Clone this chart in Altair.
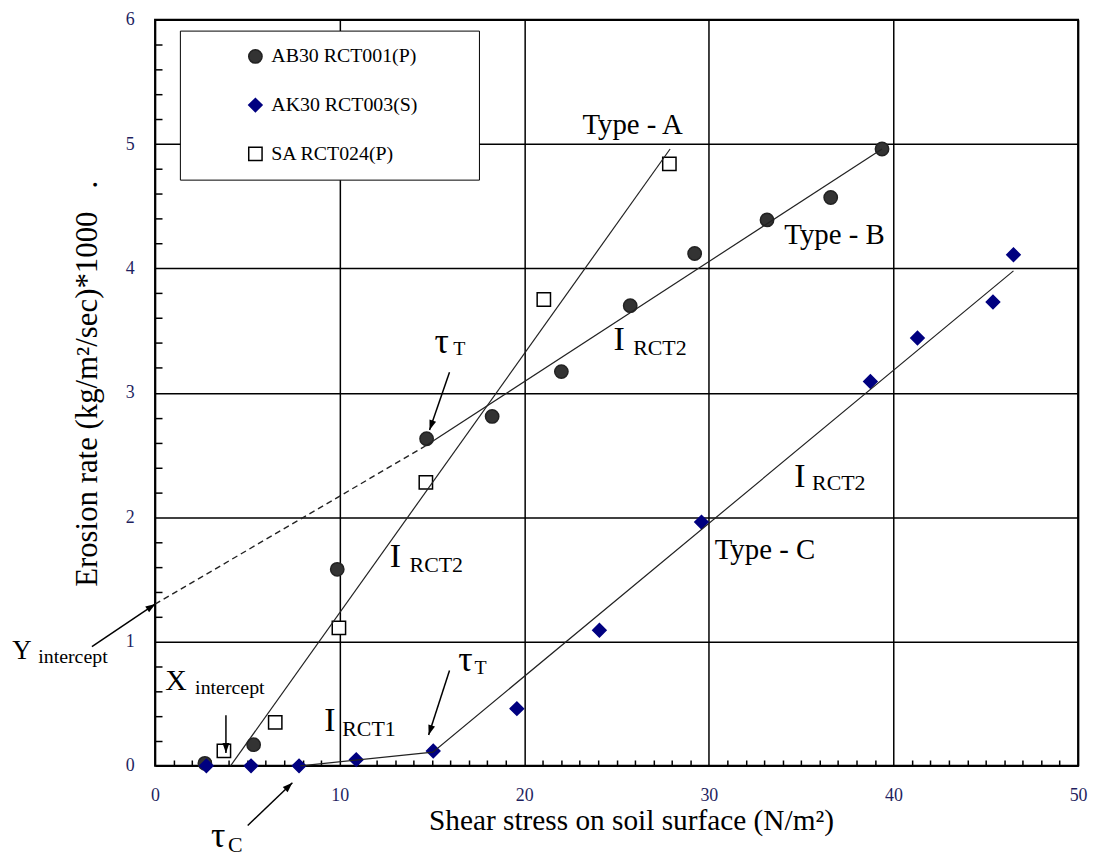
import math
import altair as alt
import pandas as pd

# ---------------- data ----------------
series_names = ["AB30 RCT001(P)", "AK30 RCT003(S)", "SA RCT024(P)"]

ab30_x = [2.7, 5.34, 9.87, 14.71, 18.26, 22.01, 25.74, 29.23, 33.15, 36.6, 39.38]
ab30_y = [0.02, 0.17, 1.58, 2.63, 2.81, 3.17, 3.70, 4.12, 4.39, 4.57, 4.96]

ak30_x = [2.78, 5.2, 7.8, 10.9, 15.07, 19.6, 24.07, 29.6, 38.75, 41.3, 45.39, 46.5]
ak30_y = [0.0, 0.0, 0.0, 0.05, 0.12, 0.46, 1.09, 1.96, 3.09, 3.44, 3.73, 4.11]

sa_x = [3.73, 6.51, 9.96, 14.67, 21.06, 27.86]
sa_y = [0.12, 0.35, 1.11, 2.28, 3.75, 4.84]

# fitted lines
typeA_x = [4.09, 27.9]
typeA_y = [0.0, 4.96]
typeB_x = [14.62, 39.38]
typeB_y = [2.57, 4.96]
typeB_ext_x = [0.0, 14.62]
typeB_ext_y = [1.30, 2.57]
typeC_x = [7.87, 15.05, 46.5]
typeC_y = [0.0, 0.11, 3.98]

# annotation texts (left, baseline) and font sizes
ann_text = ["Type - A", "Type - B", "Type - C",
            "I", "RCT2", "I", "RCT2", "I", "RCT2", "I", "RCT1",
            "\u03c4", "T", "\u03c4", "T", "\u03c4", "C",
            "Y", "intercept", "X", "intercept"]
ann_x = [23.15, 34.09, 30.32,
         24.83, 25.9, 12.72, 13.79, 34.62, 35.59, 9.17, 10.14,
         15.14, 16.16, 16.43, 17.3, 3.03, 3.95,
         -7.73, -6.33, 0.55, 2.17]
ann_y = [5.08, 4.20, 1.66,
         3.34, 3.30, 1.60, 1.56, 2.245, 2.22, 0.28, 0.24,
         3.32, 3.30, 0.76, 0.735, -0.655, -0.695,
         0.863, 0.823, 0.607, 0.575]
ann_size = [29, 29, 29,
            34, 22, 34, 22, 34, 22, 34, 22,
            36, 20, 36, 20, 36, 22,
            27, 20, 30, 20]

# arrows: start -> tip
arrow_x1 = [-3.42, 3.84, 5.02, 15.95, 15.95]
arrow_y1 = [0.959, 0.407, -0.479, 0.767, 3.164]
arrow_x2 = [0.02, 3.84, 7.44, 14.82, 14.87]
arrow_y2 = [1.302, 0.104, -0.136, 0.248, 2.70]

x_ticks = list(range(0, 51))
y_ticks = [round(0.2 * i, 1) for i in range(0, 31)]

# ---------------- chart ----------------
W, H = 929, 751
XMAX, YMAX = 50, 6
SX, SY = W / XMAX, H / YMAX
FONT = "Liberation Serif"
LABEL_COLOR = "#1f1f5f"
TX, TY = 6, 7  # inward minor tick lengths (px)

pts = pd.DataFrame(
    [{"x": a, "y": b, "series": series_names[0]} for a, b in zip(ab30_x, ab30_y)]
    + [{"x": a, "y": b, "series": series_names[1]} for a, b in zip(ak30_x, ak30_y)]
    + [{"x": a, "y": b, "series": series_names[2]} for a, b in zip(sa_x, sa_y)]
)

solid = pd.DataFrame(
    [{"x": a, "y": b, "line": "A"} for a, b in zip(typeA_x, typeA_y)]
    + [{"x": a, "y": b, "line": "B"} for a, b in zip(typeB_x, typeB_y)]
    + [{"x": a, "y": b, "line": "C"} for a, b in zip(typeC_x, typeC_y)]
)
dashed = pd.DataFrame({"x": typeB_ext_x, "y": typeB_ext_y})

ann = pd.DataFrame({"x": ann_x, "y": ann_y, "t": ann_text, "fs": ann_size})

angles = []
for a, b, c, d in zip(arrow_x1, arrow_y1, arrow_x2, arrow_y2):
    dx = (c - a) * SX
    dy = -(d - b) * SY
    angles.append(math.degrees(math.atan2(dx, -dy)) % 360)
arrows = pd.DataFrame({"x1": arrow_x1, "y1": arrow_y1, "x2": arrow_x2,
                       "y2": arrow_y2, "ang": angles})

xs = alt.Scale(domain=[0, XMAX], nice=False, zero=False)
ys = alt.Scale(domain=[0, YMAX], nice=False, zero=False)

X_MAJOR = "abs(datum.value / 10 - round(datum.value / 10)) < 0.001"
Y_MAJOR = "abs(datum.value - round(datum.value)) < 0.001"

main_x_axis = alt.Axis(
    values=x_ticks, tickCount=200, grid=True, gridColor="black", gridWidth=1.5,
    gridOpacity=1,
    gridDash={"condition": {"test": X_MAJOR, "value": []},
              "value": [0, H - TX, TX, 3000]},
    ticks=False, domain=False, labelFlush=False, labelOverlap=False,
    labelExpr=f"{X_MAJOR} ? '' + round(datum.value) : ''",
    labelFont=FONT, labelFontSize=18, labelColor=LABEL_COLOR, labelPadding=21,
    title="Shear stress on soil surface (N/m\u00b2)", titleFont=FONT,
    titleFontSize=29.5, titleFontWeight="normal", titleColor="black",
    titleX=479, titleY=64, titleBaseline="alphabetic",
)
main_y_axis = alt.Axis(
    values=y_ticks, tickCount=200, grid=True, gridColor="black", gridWidth=1.5,
    gridOpacity=1,
    gridDash={"condition": {"test": Y_MAJOR, "value": []},
              "value": [TY, 3000]},
    ticks=False, domain=False, labelFlush=False, labelOverlap=False,
    labelExpr=f"{Y_MAJOR} ? '' + round(datum.value) : ''",
    labelFont=FONT, labelFontSize=18, labelColor=LABEL_COLOR, labelPadding=21,
    title="Erosion rate (kg/m\u00b2/sec)*1000\u00a0\u00a0\u00a0.",
    titleFont=FONT, titleFontSize=31, titleFontWeight="normal",
    titleColor="black", titleAngle=270, titleX=-59, titleY=366,
    titleBaseline="alphabetic",
)

leg = alt.Legend(
    title=None, orient="none", legendX=25, legendY=11,
    strokeColor="black", fillColor="white", padding=16, rowPadding=29,
    symbolOffset=50, labelOffset=6, labelFont=FONT, labelFontSize=20,
    labelColor="black", labelLimit=600, symbolSize=180, symbolStrokeWidth=1.5,
    labelExpr="datum.label + '" + "\u00a0" * 9 + "\u200b'",
)

points = alt.Chart(pts).mark_point(opacity=1, fillOpacity=1, strokeWidth=1.5, size=180).encode(
    x=alt.X("x:Q", scale=xs, axis=main_x_axis),
    y=alt.Y("y:Q", scale=ys, axis=main_y_axis),
    shape=alt.Shape("series:N", scale=alt.Scale(domain=series_names,
                    range=["circle", "diamond", "square"]), legend=leg),
    fill=alt.Fill("series:N", scale=alt.Scale(domain=series_names,
                  range=["#333333", "#000080", "white"]), legend=leg),
    stroke=alt.Stroke("series:N", scale=alt.Scale(domain=series_names,
                      range=["#222222", "#000080", "black"]), legend=leg),
)

lines = alt.Chart(solid).mark_line(color="#222222", strokeWidth=1.2).encode(
    x=alt.X("x:Q", scale=xs),
    y=alt.Y("y:Q", scale=ys),
    detail="line:N",
)

dash = alt.Chart(dashed).mark_line(color="#222222", strokeWidth=1.4, strokeDash=[6, 4]).encode(
    x=alt.X("x:Q", scale=xs),
    y=alt.Y("y:Q", scale=ys),
)

arrow_lines = alt.Chart(arrows).mark_rule(color="black", strokeWidth=1.5).encode(
    x=alt.X("x1:Q", scale=xs),
    y=alt.Y("y1:Q", scale=ys),
    x2="x2:Q",
    y2="y2:Q",
)

arrow_heads = alt.Chart(arrows).mark_point(
    shape="M0,0 L-0.35,1 L0.35,1 Z", filled=True, color="black", opacity=1, size=400,
).encode(
    x=alt.X("x2:Q", scale=xs),
    y=alt.Y("y2:Q", scale=ys),
    angle=alt.Angle("ang:Q", scale=None),
)

texts = alt.Chart(ann).mark_text(align="left", baseline="alphabetic", font=FONT, color="black").encode(
    x=alt.X("x:Q", scale=xs),
    y=alt.Y("y:Q", scale=ys),
    text="t:N",
    size=alt.Size("fs:Q", scale=None),
)

chart = alt.layer(points, lines, dash, arrow_lines, arrow_heads, texts).properties(
    width=W, height=H,
    autosize=alt.AutoSizeParams(type="none"),
    padding={"left": 148, "top": 9, "right": 12, "bottom": 90},
).configure_view(stroke="black", strokeWidth=2)

chart.save("out.html", embed_options={"renderer": "svg", "actions": False})
